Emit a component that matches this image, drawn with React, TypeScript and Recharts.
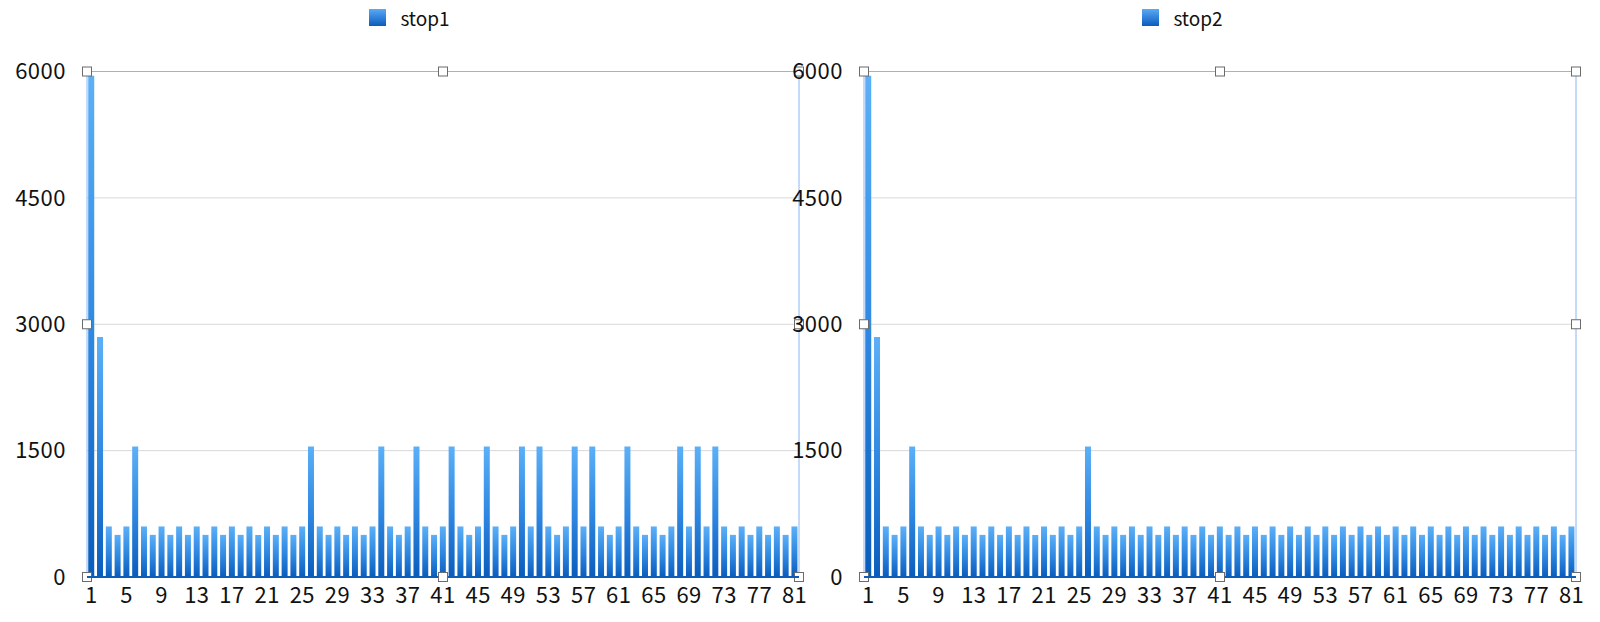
import React from "react";
import {
  BarChart,
  Bar,
  XAxis,
  YAxis,
  CartesianGrid,
  Legend,
  ReferenceLine,
  ReferenceDot,
} from "recharts";

// category labels 1..81 (just the bar index)
const categories = Array.from({ length: 81 }, (_, i) => String(i + 1));

const stop1Values = [
  5950, 2850, 600, 500, 600, 1550, 600, 500, 600, 500,
  600, 500, 600, 500, 600, 500, 600, 500, 600, 500,
  600, 500, 600, 500, 600, 1550, 600, 500, 600, 500,
  600, 500, 600, 1550, 600, 500, 600, 1550, 600, 500,
  600, 1550, 600, 500, 600, 1550, 600, 500, 600, 1550,
  600, 1550, 600, 500, 600, 1550, 600, 1550, 600, 500,
  600, 1550, 600, 500, 600, 500, 600, 1550, 600, 1550,
  600, 1550, 600, 500, 600, 500, 600, 500, 600, 500,
  600,
];

const stop2Values = [
  5950, 2850, 600, 500, 600, 1550, 600, 500, 600, 500,
  600, 500, 600, 500, 600, 500, 600, 500, 600, 500,
  600, 500, 600, 500, 600, 1550, 600, 500, 600, 500,
  600, 500, 600, 500, 600, 500, 600, 500, 600, 500,
  600, 500, 600, 500, 600, 500, 600, 500, 600, 500,
  600, 500, 600, 500, 600, 500, 600, 500, 600, 500,
  600, 500, 600, 500, 600, 500, 600, 500, 600, 500,
  600, 500, 600, 500, 600, 500, 600, 500, 600, 500,
  600,
];

const yTicks = [0, 1500, 3000, 4500, 6000];
const firstCategory = "1";
const midCategory = "41";
const lastCategory = "81";

const FONT = '"Noto Sans CJK JP", "Noto Sans", sans-serif';
const FRAME = "#8ab6f2";
const AXIS_BLUE = "#0d5cb8";
const TEXT = "#111";

function Handle({ cx, cy }: { cx: number; cy: number }) {
  return (
    <rect
      x={cx - 4.5}
      y={cy - 4.5}
      width={9}
      height={9}
      fill="#fff"
      stroke="#6b6b6b"
      strokeWidth={1}
    />
  );
}

// vertical frame edge of the plot with its three selection handles
function FrameEdge(props: any) {
  const { x1, y1, x2, y2 } = props;
  return (
    <g>
      <line x1={x1} y1={y1} x2={x2} y2={y2} stroke={FRAME} strokeWidth={1} />
      <Handle cx={x1} cy={y1} />
      <Handle cx={x1} cy={(y1 + y2) / 2} />
      <Handle cx={x2} cy={y2} />
    </g>
  );
}

function StopChart({
  name,
  values,
  gradId,
  left,
  legendShift,
}: {
  name: string;
  values: number[];
  gradId: string;
  left: number;
  legendShift: number;
}) {
  const data = categories.map((cat, i) => ({ cat, v: values[i] }));

  const legendContent = () => (
    <div
      style={{
        height: 35,
        display: "flex",
        alignItems: "center",
        justifyContent: "center",
        paddingLeft: legendShift,
        fontFamily: FONT,
        fontSize: 19,
        color: TEXT,
      }}
    >
      <span
        style={{
          width: 17,
          height: 17,
          background: "linear-gradient(#5aaaf6, #0a5cbc)",
          marginRight: 14,
          display: "inline-block",
        }}
      />
      <span>{name}</span>
    </div>
  );

  return (
    <div style={{ position: "absolute", left, top: 0 }}>
      <BarChart
        width={810}
        height={622}
        data={data}
        margin={{ top: 36.5, right: 11, bottom: 5, left: 0 }}
        barCategoryGap="14%"
      >
        <defs>
          <linearGradient id={gradId} x1="0" y1="0" x2="0" y2="1">
            <stop offset="0%" stopColor="#5cb0f8" />
            <stop offset="55%" stopColor="#2c85df" />
            <stop offset="100%" stopColor="#0a5cbc" />
          </linearGradient>
        </defs>
        <CartesianGrid vertical={false} stroke="#d9d9d9" />
        <Legend verticalAlign="top" wrapperStyle={{ top: 0 }} content={legendContent} />
        <XAxis
          dataKey="cat"
          interval={3}
          tickLine={false}
          tickSize={0}
          tickMargin={10}
          height={40}
          axisLine={{ stroke: AXIS_BLUE, strokeWidth: 2 }}
          tick={{ fontSize: 22, fill: TEXT, fontFamily: FONT, letterSpacing: 0.5 }}
        />
        <YAxis
          domain={[0, 6000]}
          ticks={yTicks}
          width={87}
          tickLine={false}
          tickSize={0}
          tickMargin={21}
          axisLine={false}
          tick={{ fontSize: 22, fill: TEXT, fontFamily: FONT, letterSpacing: 0.5 }}
        />
        <Bar
          dataKey="v"
          name={name}
          fill={`url(#${gradId})`}
          isAnimationActive={false}
        />
        <ReferenceLine y={6000} stroke={FRAME} />
        <ReferenceLine x={firstCategory} position="start" shape={FrameEdge} />
        <ReferenceLine x={lastCategory} position="end" shape={FrameEdge} />
        <ReferenceDot x={midCategory} y={6000} shape={(p: any) => <Handle cx={p.cx} cy={p.cy} />} />
        <ReferenceDot x={midCategory} y={0} shape={(p: any) => <Handle cx={p.cx} cy={p.cy} />} />
      </BarChart>
    </div>
  );
}

export default function App() {
  return (
    <div
      style={{
        position: "absolute",
        left: 0,
        top: 0,
        width: 1600,
        height: 622,
        background: "#fff",
        overflow: "hidden",
      }}
    >
      <StopChart name="stop1" values={stop1Values} gradId="gradStop1" left={0} legendShift={20} />
      <StopChart name="stop2" values={stop2Values} gradId="gradStop2" left={777} legendShift={12} />
    </div>
  );
}
